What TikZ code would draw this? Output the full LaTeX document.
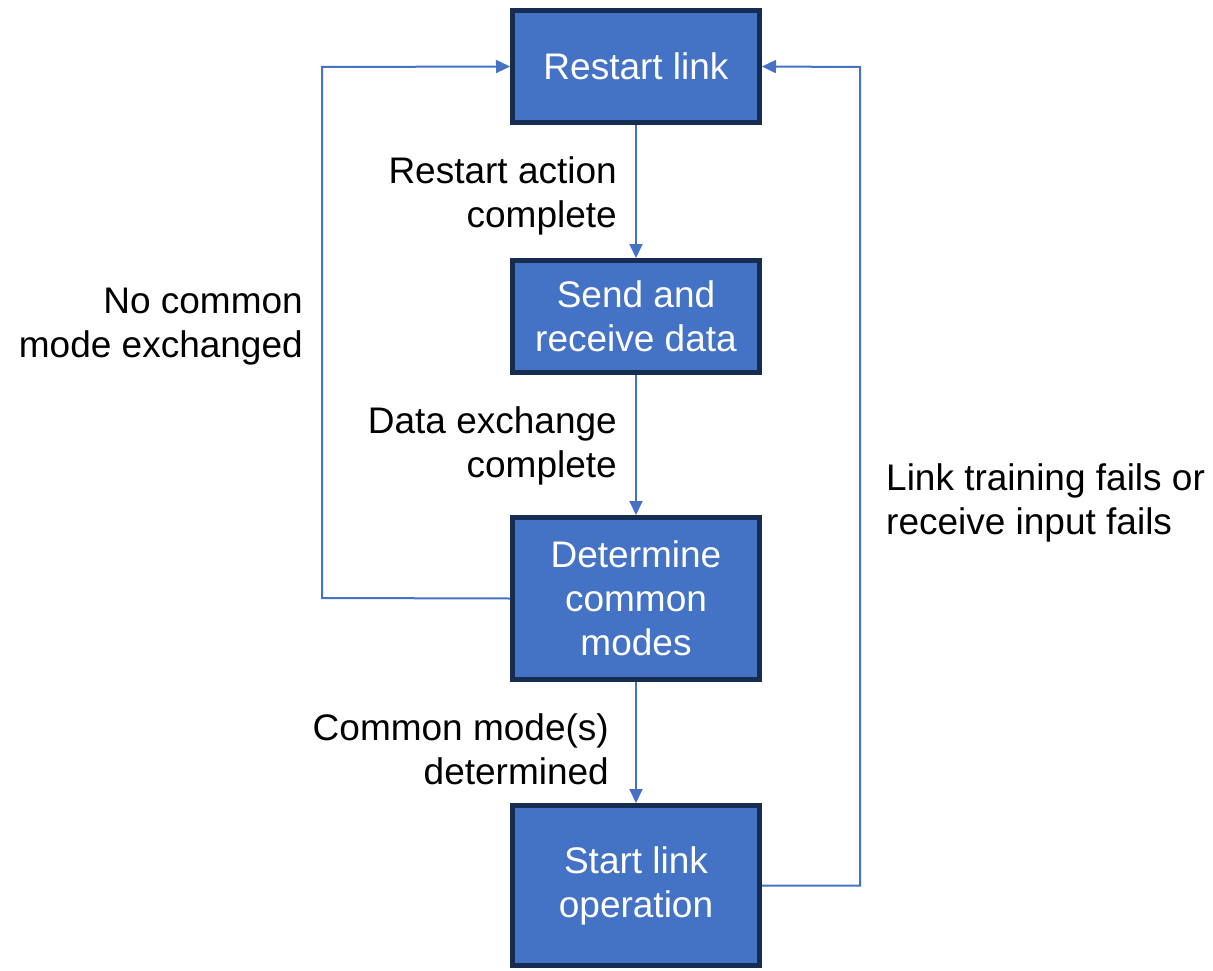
\documentclass[tikz,border=0pt]{standalone}
\usepackage{fontspec}
\setmainfont{Liberation Sans}
\usetikzlibrary{arrows.meta}
\definecolor{boxfill}{HTML}{4472C4}
\definecolor{boxedge}{HTML}{172C51}
\definecolor{linecol}{HTML}{4472C4}
\begin{document}
\begin{tikzpicture}[x=1pt,y=-1pt,
  stepbox/.style={draw=boxedge, line width=5pt, fill=boxfill, text=white,
    minimum width=247pt, align=center, inner sep=0pt,
    font=\fontsize{37}{44}\selectfont},
  lbl/.style={align=right, inner sep=0pt, font=\fontsize{37}{44}\selectfont},
  lbll/.style={align=left, inner sep=0pt, font=\fontsize{37}{44}\selectfont},
  conn/.style={draw=linecol, line width=2pt, -{Triangle[length=14pt,width=13pt]}}]
\useasboundingbox (0,0) rectangle (1213,971);
\node[stepbox, minimum height=112pt] (b1) at (636,66.5) {Restart link};
\node[stepbox, minimum height=112pt] (b2) at (636,316.5) {Send and\\receive data};
\node[stepbox, minimum height=162pt] (b3) at (636,598.5) {Determine\\common\\modes};
\node[stepbox, minimum height=160pt] (b4) at (636,885.5) {\rule{0pt}{0pt}\raisebox{-3pt}{Start link}\\\raisebox{-3pt}{operation}};
\draw[conn] (b1.south) -- (b2.north);
\draw[conn] (b2.south) -- (b3.north);
\draw[conn] (b3.south) -- (b4.north);
\coordinate (l1) at (322,598);
\coordinate (l2) at (322,67);
\draw[conn] (b3.west) -- (l1) -- (l2) -- (b1.west);
\coordinate (r1) at (860,885.5);
\coordinate (r2) at (860,67);
\draw[conn] (b4.east) -- (r1) -- (r2) -- (b1.east);
\node[lbl, anchor=east] (t1) at (617,196) {Restart action\\complete};
\node[lbl, anchor=east] (t2) at (617,446) {Data exchange\\complete};
\node[lbl, anchor=east] (t3) at (609,749) {Common mode(s)\\determined};
\node[lbl, anchor=east] (t4) at (303,327) {No common\\mode exchanged};
\node[lbll, anchor=west] (t5) at (886,503) {Link training fails or\\receive input fails};
\end{tikzpicture}
\end{document}
